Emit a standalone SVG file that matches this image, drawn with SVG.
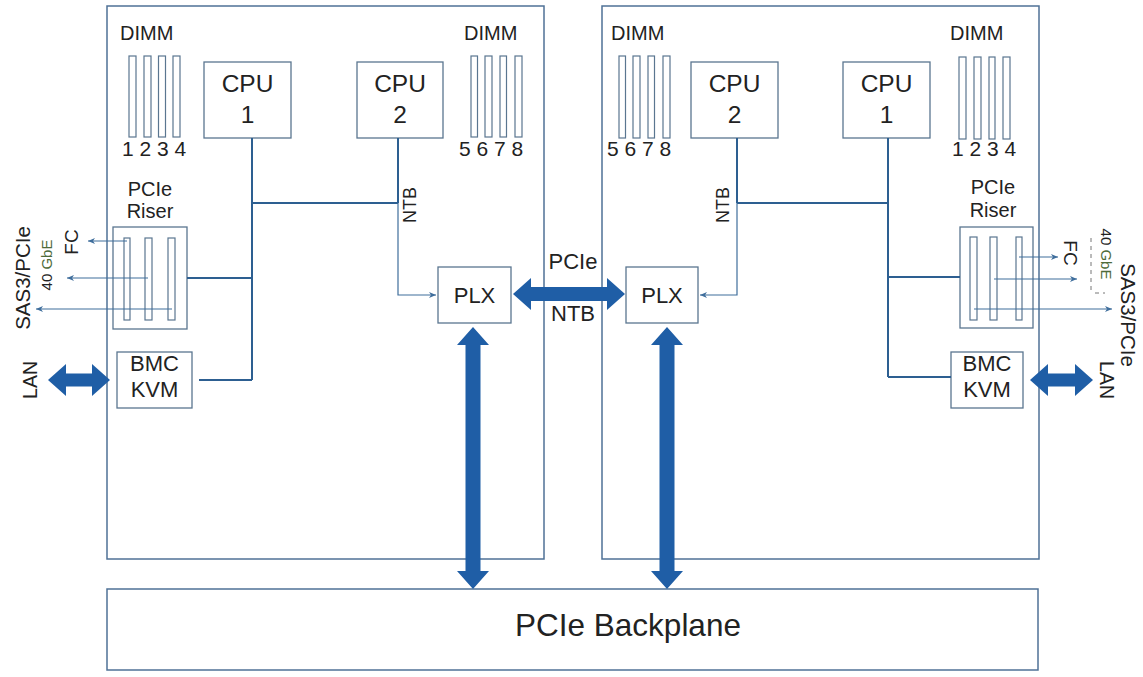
<svg xmlns="http://www.w3.org/2000/svg" width="1143" height="677" viewBox="0 0 1143 677">
<style>
.board{fill:#fff;stroke:#4f7196;stroke-width:1.5}
.box{fill:#fff;stroke:#5a7690;stroke-width:1.3}
.slot{fill:#fff;stroke:#5a7690;stroke-width:1.2}
.bus{fill:none;stroke:#2d5f91;stroke-width:2}
.thin{fill:none;stroke:#3f6e9c;stroke-width:1.2}
.big{fill:#1f5ea6}
text{font-family:"Liberation Sans",Arial,sans-serif;fill:#222}
.t19{font-size:20px}
.t20{font-size:21px}
.t24{font-size:24.5px;text-anchor:middle}
.t22{font-size:22px;text-anchor:middle}
.mid{text-anchor:middle}
</style>
<defs>
<marker id="ah" markerWidth="8" markerHeight="8" refX="7" refY="4" orient="auto" markerUnits="userSpaceOnUse">
<path d="M0,1 L7,4 L0,7 L2,4 Z" fill="#3f6e9c"/>
</marker>
</defs>

<g id="backplane">
<rect class="board" x="107" y="589" width="931" height="81"/>
<text x="628" y="636" class="mid" style="font-size:31.5px">PCIe Backplane</text>
</g>

<g id="board-left">
<rect class="board" x="107" y="6" width="437" height="553"/>
</g>
<g id="board-right">
<rect class="board" x="602" y="6" width="437" height="553"/>
</g>

<g id="dimm-left-1">
<text x="120" y="40" class="t19">DIMM</text>
<rect class="slot" x="129" y="56" width="7" height="81"/>
<rect class="slot" x="144" y="56" width="7" height="81"/>
<rect class="slot" x="158.5" y="56" width="7" height="81"/>
<rect class="slot" x="173" y="56" width="7" height="81"/>
<text x="122" y="156" class="t20">1 2 3 4</text>
</g>
<g id="cpu-left-1">
<rect class="box" x="204" y="62" width="87" height="76"/>
<text x="247.5" y="92" class="t24">CPU</text>
<text x="247.5" y="123" class="t24">1</text>
</g>
<g id="cpu-left-2">
<rect class="box" x="357" y="62" width="86" height="76"/>
<text x="400" y="92" class="t24">CPU</text>
<text x="400" y="123" class="t24">2</text>
</g>
<g id="dimm-left-2">
<text x="464" y="40" class="t19">DIMM</text>
<rect class="slot" x="471" y="56" width="6.5" height="81"/>
<rect class="slot" x="485" y="56" width="7" height="81"/>
<rect class="slot" x="500" y="56" width="6.5" height="81"/>
<rect class="slot" x="515" y="56" width="7" height="81"/>
<text x="459" y="156" class="t20">5 6 7 8</text>
</g>
<g id="riser-left">
<text x="150" y="196" class="t19 mid">PCIe</text>
<text x="150" y="218" class="t19 mid">Riser</text>
<rect class="box" x="113" y="227" width="74" height="102"/>
<rect class="slot" x="124" y="238" width="6" height="82"/>
<rect class="slot" x="145" y="238" width="7" height="82"/>
<rect class="slot" x="168" y="238" width="7" height="82"/>
</g>
<g id="bmc-left">
<rect class="box" x="117" y="352" width="75" height="56"/>
<text x="154.5" y="371" class="t22">BMC</text>
<text x="154.5" y="397" class="t22">KVM</text>
</g>
<g id="plx-left">
<rect class="box" x="438" y="267" width="73" height="56"/>
<text x="474.5" y="303" class="t22">PLX</text>
</g>

<g id="dimm-right-2">
<text x="611" y="40" class="t19">DIMM</text>
<rect class="slot" x="619" y="56" width="6.5" height="82"/>
<rect class="slot" x="633" y="56" width="7" height="82"/>
<rect class="slot" x="648" y="56" width="6.5" height="82"/>
<rect class="slot" x="663" y="56" width="7" height="82"/>
<text x="607" y="156" class="t20">5 6 7 8</text>
</g>
<g id="cpu-right-2">
<rect class="box" x="691" y="62" width="87" height="76"/>
<text x="734.5" y="92" class="t24">CPU</text>
<text x="734.5" y="123" class="t24">2</text>
</g>
<g id="cpu-right-1">
<rect class="box" x="843" y="62" width="87" height="76"/>
<text x="886.5" y="92" class="t24">CPU</text>
<text x="886.5" y="123" class="t24">1</text>
</g>
<g id="dimm-right-1">
<text x="950" y="40" class="t19">DIMM</text>
<rect class="slot" x="959" y="57" width="7" height="82"/>
<rect class="slot" x="974" y="57" width="7" height="82"/>
<rect class="slot" x="989" y="57" width="6" height="82"/>
<rect class="slot" x="1003" y="57" width="7" height="82"/>
<text x="952" y="156" class="t20">1 2 3 4</text>
</g>
<g id="riser-right">
<text x="993" y="194" class="t19 mid">PCIe</text>
<text x="993" y="217" class="t19 mid">Riser</text>
<rect class="box" x="960" y="227" width="73" height="101"/>
<rect class="slot" x="970" y="237" width="7" height="83"/>
<rect class="slot" x="990" y="237" width="7" height="83"/>
<rect class="slot" x="1016" y="237" width="6" height="83"/>
</g>
<g id="bmc-right">
<rect class="box" x="951" y="352" width="72" height="56"/>
<text x="987" y="371" class="t22">BMC</text>
<text x="987" y="397" class="t22">KVM</text>
</g>
<g id="plx-right">
<rect class="box" x="626" y="267" width="72" height="56"/>
<text x="662" y="303" class="t22">PLX</text>
</g>

<g id="labels">
<text x="573" y="269" class="t22">PCIe</text>
<text x="573" y="321" class="t22">NTB</text>
<text transform="translate(416,205) rotate(-90)" class="mid" style="font-size:18px">NTB</text>
<text transform="translate(729,205) rotate(-90)" class="mid" style="font-size:18px">NTB</text>
<text transform="translate(78,242) rotate(-90)" class="mid" style="font-size:19px">FC</text>
<text transform="translate(52,265) rotate(-90)" class="mid" style="font-size:15px">40 <tspan fill="#4e6b3a">GbE</tspan></text>
<text transform="translate(30,278) rotate(-90)" class="mid" style="font-size:20.5px">SAS3/PCIe</text>
<text transform="translate(37,380) rotate(-90)" class="mid" style="font-size:19.5px">LAN</text>
<text transform="translate(1064,253) rotate(90)" class="mid" style="font-size:19px">FC</text>
<text transform="translate(1101,254) rotate(90)" class="mid" style="font-size:15px">40 <tspan fill="#4e6b3a">GbE</tspan></text>
<text transform="translate(1121,315) rotate(90)" class="mid" style="font-size:20.5px">SAS3/PCIe</text>
<text transform="translate(1100,380) rotate(90)" class="mid" style="font-size:19.5px">LAN</text>
<path d="M1091,238 V293 M1095,293 H1105" fill="none" stroke="#777" stroke-width="1" stroke-dasharray="4,4"/>
</g>

<g id="connectors">
<path class="bus" d="M252,138 V380 M252,203 H398 M398,138 V203 M187,278 H252 M199,380 H252"/>
<path class="thin" d="M398,203 V295 H436" marker-end="url(#ah)"/>
<path class="thin" d="M127,241 H88" marker-end="url(#ah)"/>
<path class="thin" d="M148,278 H67" marker-end="url(#ah)"/>
<path class="thin" d="M172,309 H36" marker-end="url(#ah)"/>
<path class="bus" d="M888,138 V377 M737,203 H888 M737,138 V203 M888,277 H960 M888,377 H951"/>
<path class="thin" d="M737,203 V295 H700" marker-end="url(#ah)"/>
<path class="thin" d="M1019,257 H1058" marker-end="url(#ah)"/>
<path class="thin" d="M994,279 H1077" marker-end="url(#ah)"/>
<path class="thin" d="M974,309 H1112" marker-end="url(#ah)"/>
<polygon class="big" points="513,294 531,278 531,287 607,287 607,278 625,294 607,310 607,301 531,301 531,310"/>
<polygon class="big" points="473,327 489,345 480.5,345 480.5,571 489,571 473,589 457,571 465.5,571 465.5,345 457,345"/>
<polygon class="big" points="667,327 683,345 674.5,345 674.5,571 683,571 667,589 651,571 659.5,571 659.5,345 651,345"/>
<polygon class="big" points="48,380 66,364 66,373.5 92,373.5 92,364 110,380 92,396 92,386.5 66,386.5 66,396"/>
<polygon class="big" points="1030,380 1048,364 1048,373.5 1075,373.5 1075,364 1093,380 1075,396 1075,386.5 1048,386.5 1048,396"/>
</g>
</svg>
